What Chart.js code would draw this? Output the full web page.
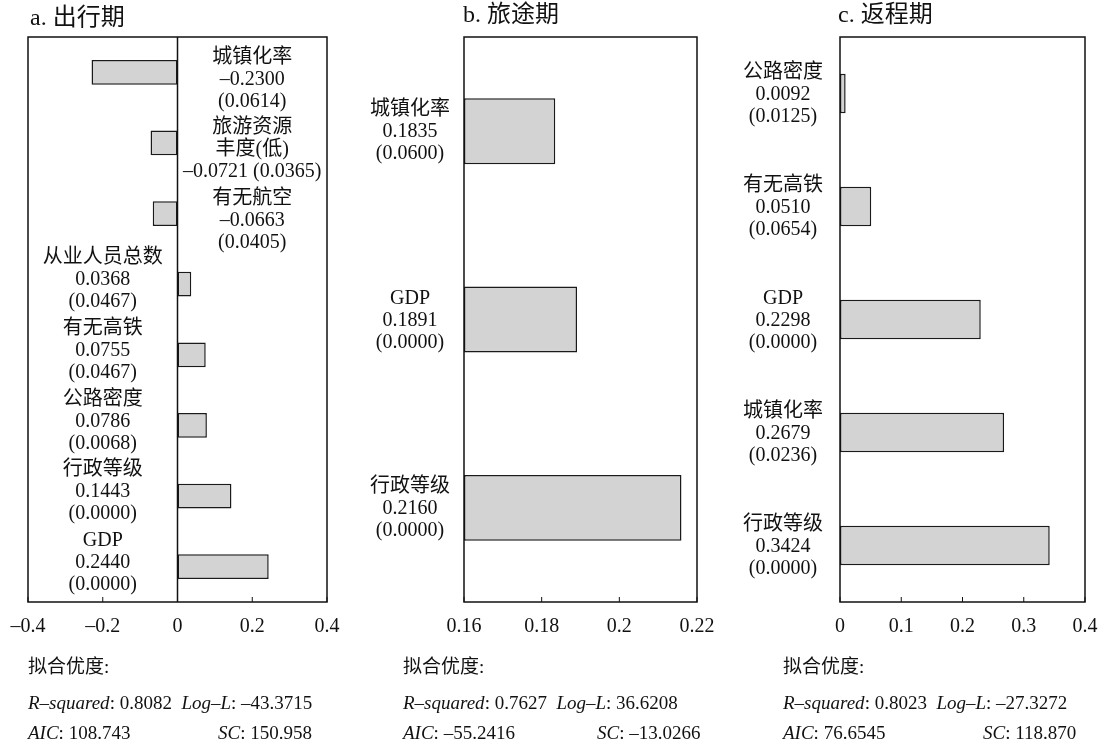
<!DOCTYPE html>
<html>
<head>
<meta charset="utf-8">
<script src="https://cdn.jsdelivr.net/npm/chart.js@4.4.0/dist/chart.umd.min.js"></script>
<style>
  body { margin: 0; background: #fff; }
  #wrap { position: relative; width: 1100px; height: 741px; overflow: hidden;
          font-family: "Liberation Serif", "Noto Sans CJK SC", serif; color: #111; }
  canvas { position: absolute; left: 0; top: 0; }
  .title { position: absolute; font-size: 24px; line-height: 24px; white-space: nowrap; }
  .stat { position: absolute; font-size: 19px; line-height: 19px; white-space: nowrap; }
  .stat i { font-style: italic; }
</style>
</head>
<body>
<div id="wrap">
  <canvas id="chartA" width="1100" height="741"></canvas>
  <canvas id="chartB" width="1100" height="741"></canvas>
  <canvas id="chartC" width="1100" height="741"></canvas>
</div>
<script>
// --- Data ---
const aNames = [['城镇化率'], ['旅游资源', '丰度(低)'], ['有无航空'], ['从业人员总数'], ['有无高铁'], ['公路密度'], ['行政等级'], ['GDP']];
const aValues = [-0.2300, -0.0721, -0.0663, 0.0368, 0.0755, 0.0786, 0.1443, 0.2440];
const aPValues = [0.0614, 0.0365, 0.0405, 0.0467, 0.0467, 0.0068, 0.0000, 0.0000];

const bNames = [['城镇化率'], ['GDP'], ['行政等级']];
const bValues = [0.1835, 0.1891, 0.2160];
const bPValues = [0.0600, 0.0000, 0.0000];

const cNames = [['公路密度'], ['有无高铁'], ['GDP'], ['城镇化率'], ['行政等级']];
const cValues = [0.0092, 0.0510, 0.2298, 0.2679, 0.3424];
const cPValues = [0.0125, 0.0654, 0.0000, 0.0236, 0.0000];

const panelTitles = ['a. 出行期', 'b. 旅途期', 'c. 返程期'];
const rSquared = ['0.8082', '0.7627', '0.8023'];
const logL = ['–43.3715', '36.6208', '–27.3272'];
const aic = ['108.743', '–55.2416', '76.6545'];
const sc = ['150.958', '–13.0266', '118.870'];

const LABEL_FONT = '20px "Liberation Serif", "Noto Sans CJK SC", serif';

// --- Helpers ---
function fmt(v, digits) {
    const s = Number(v.toFixed(digits)).toString();
    return s.replace('-', '–');
}

function labelLines(name, value, p) {
    const val = value.toFixed(4).replace('-', '–');
    const pv = '(' + p.toFixed(4) + ')';
    if (name.length > 1) return [...name, val + ' ' + pv];
    return [name[0], val, pv];
}

// box, inward ticks and zero line
const framePlugin = {
    id: 'frame',
    afterDraw(chart, args, opts) {
        const { ctx, chartArea: a } = chart;
        const xs = chart.scales.x;
        ctx.save();
        ctx.strokeStyle = '#111';
        ctx.lineWidth = 1.5;
        ctx.strokeRect(a.left, a.top, a.right - a.left, a.bottom - a.top);
        ctx.lineWidth = 1;
        xs.ticks.forEach(t => {
            const x = xs.getPixelForValue(t.value);
            ctx.beginPath();
            ctx.moveTo(x, a.bottom);
            ctx.lineTo(x, a.bottom - 5);
            ctx.stroke();
        });
        if (opts.zeroLine) {
            const x0 = xs.getPixelForValue(0);
            ctx.lineWidth = 1.5;
            ctx.beginPath();
            ctx.moveTo(x0, a.top);
            ctx.lineTo(x0, a.bottom);
            ctx.stroke();
        }
        ctx.restore();
    }
};

// three-line labels per bar
const barLabelPlugin = {
    id: 'barLabels',
    afterDatasetsDraw(chart, args, opts) {
        const { ctx, chartArea: a } = chart;
        const xs = chart.scales.x, ys = chart.scales.y;
        const values = chart.data.datasets[0].data;
        ctx.save();
        ctx.font = LABEL_FONT;
        ctx.fillStyle = '#111';
        ctx.textAlign = 'center';
        ctx.textBaseline = 'middle';
        values.forEach((v, i) => {
            const lines = labelLines(opts.names[i], v, opts.pvalues[i]);
            let cx, shift;
            if (opts.mode === 'split') {
                const x0 = xs.getPixelForValue(0);
                cx = v < 0 ? (x0 + a.right) / 2 : (a.left + x0) / 2;
                shift = v < 0 ? 7 : -4;
            } else {
                cx = opts.labelX;
                shift = 1;
            }
            const cy = ys.getPixelForValue(i) + shift;
            const lh = 22;
            lines.forEach((ln, k) => {
                ctx.fillText(ln, cx, cy + (k - (lines.length - 1) / 2) * lh);
            });
        });
        ctx.restore();
    }
};

function makePanel(id, names, values, pvalues, axis, area, labelOpts) {
    const ctx = document.getElementById(id).getContext('2d');
    return new Chart(ctx, {
        type: 'bar',
        data: {
            labels: names.map(n => n.join('')),
            datasets: [{
                data: values,
                base: axis.min < 0 ? 0 : axis.min,
                backgroundColor: '#d2d3d2',
                borderColor: '#1a1a1a',
                borderWidth: 1.5,
                borderSkipped: false,
                categoryPercentage: 1,
                barPercentage: 0.35
            }]
        },
        options: {
            indexAxis: 'y',
            responsive: false,
            animation: false,
            events: [],
            layout: {
                padding: { left: area.left, right: 1100 - area.right, top: area.top, bottom: 741 - area.bottom - 60 }
            },
            plugins: {
                legend: { display: false },
                tooltip: { enabled: false },
                frame: { zeroLine: axis.min < 0 },
                barLabels: Object.assign({ names: names, pvalues: pvalues }, labelOpts)
            },
            scales: {
                x: {
                    min: axis.min,
                    max: axis.max,
                    grid: { display: false },
                    border: { display: false },
                    afterFit: s => {
                        s.height = 60;
                        // tick labels may overflow the box edges, as in the original
                        s.paddingLeft = 0;
                        s.paddingRight = 0;
                    },
                    ticks: {
                        stepSize: axis.step,
                        padding: 5,
                        color: '#111',
                        maxRotation: 0,
                        font: { family: '"Liberation Serif", serif', size: 20 },
                        callback: v => fmt(v, 2)
                    }
                },
                y: { display: false, offset: true }
            }
        },
        plugins: [framePlugin, barLabelPlugin]
    });
}

// --- Charts ---
makePanel('chartA', aNames, aValues, aPValues,
    { min: -0.4, max: 0.4, step: 0.2 },
    { left: 28, right: 327, top: 37, bottom: 602 },
    { mode: 'split' });

makePanel('chartB', bNames, bValues, bPValues,
    { min: 0.16, max: 0.22, step: 0.02 },
    { left: 464, right: 697, top: 37, bottom: 602 },
    { mode: 'left', labelX: 410 });

makePanel('chartC', cNames, cValues, cPValues,
    { min: 0, max: 0.4, step: 0.1 },
    { left: 840, right: 1085, top: 37, bottom: 602 },
    { mode: 'left', labelX: 783 });

// --- Titles and fit statistics ---
const wrap = document.getElementById('wrap');
const titleX = [30, 463, 838];
const titleY = [5, 2, 2];
const statX = [28, 403, 783];
const scX = [218, 597, 983];

function addText(cls, html, x, y) {
    const d = document.createElement('div');
    d.className = cls;
    d.innerHTML = html;
    d.style.left = x + 'px';
    d.style.top = y + 'px';
    wrap.appendChild(d);
}

panelTitles.forEach((t, i) => {
    addText('title', t, titleX[i], titleY[i]);
    addText('stat', '拟合优度:', statX[i], 657);
    addText('stat', `<i>R–squared</i>: ${rSquared[i]}&nbsp; <i>Log–L</i>: ${logL[i]}`, statX[i], 693);
    addText('stat', `<i>AIC</i>: ${aic[i]}`, statX[i], 723);
    addText('stat', `<i>SC</i>: ${sc[i]}`, scX[i], 723);
});
</script>
</body>
</html>
